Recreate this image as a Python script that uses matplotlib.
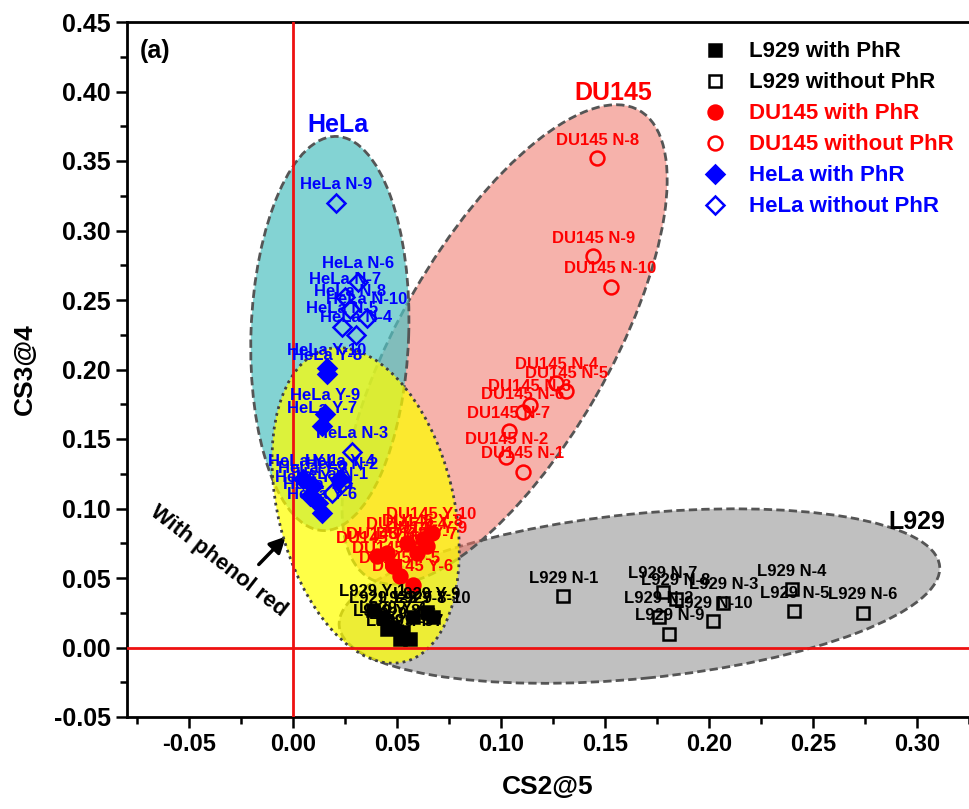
import matplotlib
matplotlib.use("Agg")
import matplotlib.pyplot as plt
from matplotlib.patches import Ellipse
from matplotlib.lines import Line2D
from matplotlib.transforms import Affine2D

plt.rcParams['font.family'] = ['Liberation Sans', 'DejaVu Sans']
plt.rcParams['font.weight'] = 'bold'
plt.rcParams['axes.labelweight'] = 'bold'

sample_ids = list(range(1, 11))

# L929 (Y = with phenol red, N = without)
l929_y_x = [0.0384, 0.0432, 0.0451, 0.0480, 0.0514, 0.0528, 0.0562, 0.0576, 0.0643, 0.0672]
l929_y_y = [0.0273, 0.0223, 0.0130, 0.0151, 0.0058, 0.0108, 0.0058, 0.0223, 0.0252, 0.0223]
l929_n_x = [0.130, 0.176, 0.207, 0.240, 0.241, 0.274, 0.178, 0.184, 0.181, 0.202]
l929_n_y = [0.037, 0.022, 0.032, 0.042, 0.026, 0.025, 0.040, 0.035, 0.010, 0.019]

# DU145
du_y_x = [0.0403, 0.0451, 0.0480, 0.0547, 0.0514, 0.0576, 0.0595, 0.0624, 0.0643, 0.0667]
du_y_y = [0.0655, 0.0683, 0.0583, 0.0755, 0.0511, 0.0453, 0.0683, 0.0777, 0.0727, 0.0827]
du_n_x = [0.1104, 0.1027, 0.1138, 0.1267, 0.1315, 0.1104, 0.1037, 0.1464, 0.1445, 0.1527]
du_n_y = [0.1266, 0.1367, 0.1748, 0.1906, 0.1842, 0.1691, 0.1554, 0.3518, 0.2813, 0.2597]

# HeLa
hela_y_x = [0.0048, 0.0096, 0.0120, 0.0226, 0.0082, 0.0139, 0.0139, 0.0163, 0.0154, 0.0163]
hela_y_y = [0.121, 0.116, 0.104, 0.121, 0.109, 0.097, 0.159, 0.197, 0.168, 0.201]
hela_n_x = [0.0187, 0.0235, 0.0283, 0.0302, 0.0235, 0.0312, 0.0250, 0.0274, 0.0206, 0.0355]
hela_n_y = [0.1115, 0.1187, 0.1410, 0.2245, 0.2309, 0.2633, 0.2518, 0.2432, 0.3201, 0.2374]

xlim = (-0.0797, 0.3243)
ylim = (-0.05, 0.45)

fig = plt.figure(figsize=(9.69, 8.09), dpi=100)
ax_box = [127 / 969, 92 / 809, 842 / 969, 695 / 809]
ax = fig.add_axes(ax_box)
ax.set_xlim(*xlim)
ax.set_ylim(*ylim)

# ratio of pixel scales, so ellipses can be given in x-data units
kx = ax_box[2] * 969 / (xlim[1] - xlim[0])
ky = ax_box[3] * 809 / (ylim[1] - ylim[0])
r = ky / kx
etrans = Affine2D().scale(1, 1 / r) + ax.transData

def group_ellipse(cx, cy, a, b, ang, fc, ec, ls, z):
    e = Ellipse((cx, cy * r), 2 * a, 2 * b, angle=ang, transform=etrans,
                facecolor=fc, edgecolor=ec, linestyle=ls, linewidth=2, zorder=z)
    ax.add_patch(e)

group_ellipse(0.1666, 0.037, 0.145, 0.0395, 5.7, '#c0c0c0', '#555555', (0, (3, 1.5)), 1)
group_ellipse(0.1018, 0.218, 0.1296, 0.0504, 60, (0.94, 0.45, 0.40, 0.55), '#555555', (0, (3, 1.5)), 2)
group_ellipse(0.0178, 0.2259, 0.0946, 0.0379, 88, (0.33, 0.76, 0.76, 0.72), '#555555', (0, (3, 1.5)), 3)
group_ellipse(0.035, 0.1022, 0.0773, 0.0422, 104, (1.0, 1.0, 0.0, 0.72), '#404040', (0, (1, 1.5)), 4)

ax.axvline(0, color='#ee1111', lw=2, zorder=5)
ax.axhline(0, color='#ee1111', lw=2, zorder=5)

series = [
    (l929_y_x, l929_y_y, 's', 'black', True, 'L929 Y', 8.5),
    (l929_n_x, l929_n_y, 's', 'black', False, 'L929 N', 8.5),
    (du_y_x, du_y_y, 'o', 'red', True, 'DU145 Y', 10),
    (du_n_x, du_n_y, 'o', 'red', False, 'DU145 N', 10),
    (hela_y_x, hela_y_y, 'D', 'blue', True, 'HeLa Y', 9),
    (hela_n_x, hela_n_y, 'D', 'blue', False, 'HeLa N', 9),
]
for xs, ys, m, c, filled, name, ms in series:
    ax.plot(xs, ys, linestyle='none', marker=m, ms=ms, mec=c,
            mfc=c if filled else 'none', mew=1.8, zorder=7)
    for i, x, y in zip(sample_ids, xs, ys):
        ax.annotate(f'{name}-{i}', (x, y), xytext=(0, 13), textcoords='offset points',
                    ha='center', va='center', fontsize=12, color=c, zorder=8)

ax.text(0.0216, 0.376, 'HeLa', color='blue', fontsize=18, ha='center', va='center')
ax.text(0.154, 0.399, 'DU145', color='red', fontsize=18, ha='center', va='center')
ax.text(0.300, 0.090, 'L929', color='black', fontsize=18, ha='center', va='center')
ax.text(-0.066, 0.429, '(a)', fontsize=18, ha='center', va='center')
ax.text(-0.036, 0.062, 'With phenol red', fontsize=16, rotation=-38,
        ha='center', va='center', rotation_mode='anchor')
ax.annotate('', xy=(-0.0024, 0.0813), xytext=(-0.0173, 0.0583),
            arrowprops=dict(arrowstyle='-|>', color='black', lw=2.5, mutation_scale=24))

handles = [
    Line2D([], [], ls='none', marker='s', ms=8.5, mec='black', mfc='black', mew=1.8),
    Line2D([], [], ls='none', marker='s', ms=8.5, mec='black', mfc='none', mew=1.8),
    Line2D([], [], ls='none', marker='o', ms=10, mec='red', mfc='red', mew=1.8),
    Line2D([], [], ls='none', marker='o', ms=10, mec='red', mfc='none', mew=1.8),
    Line2D([], [], ls='none', marker='D', ms=9, mec='blue', mfc='blue', mew=1.8),
    Line2D([], [], ls='none', marker='D', ms=9, mec='blue', mfc='none', mew=1.8),
]
labels = ['L929 with PhR', 'L929 without PhR', 'DU145 with PhR',
          'DU145 without PhR', 'HeLa with PhR', 'HeLa without PhR']
ax.legend(handles, labels, loc='upper left', bbox_to_anchor=(0.675, 0.985),
          frameon=False, fontsize=16, handlelength=1.0, handletextpad=1.0,
          labelspacing=0.45, borderaxespad=0,
          labelcolor=['black', 'black', 'red', 'red', 'blue', 'blue'])

ax.set_xticks([-0.05, 0.0, 0.05, 0.10, 0.15, 0.20, 0.25, 0.30])
ax.set_xticks([-0.075, -0.025, 0.025, 0.075, 0.125, 0.175, 0.225, 0.275, 0.325], minor=True)
ax.set_yticks([-0.05, 0.0, 0.05, 0.10, 0.15, 0.20, 0.25, 0.30, 0.35, 0.40, 0.45])
ax.set_yticks([-0.025, 0.025, 0.075, 0.125, 0.175, 0.225, 0.275, 0.325, 0.375, 0.425], minor=True)
ax.xaxis.set_major_formatter(matplotlib.ticker.FormatStrFormatter('%.2f'))
ax.yaxis.set_major_formatter(matplotlib.ticker.FormatStrFormatter('%.2f'))
ax.tick_params(which='major', direction='out', length=8, width=1.8, labelsize=17)
ax.tick_params(axis='y', which='major', labelsize=18)
ax.tick_params(which='minor', direction='out', length=5, width=1.8)
for s in ['left', 'bottom', 'top']:
    ax.spines[s].set_linewidth(2)
ax.spines['right'].set_visible(False)
ax.set_xlabel('CS2@5', fontsize=19, labelpad=14)
ax.set_ylabel('CS3@4', fontsize=19, labelpad=12)

fig.savefig('out.png', dpi=100)
